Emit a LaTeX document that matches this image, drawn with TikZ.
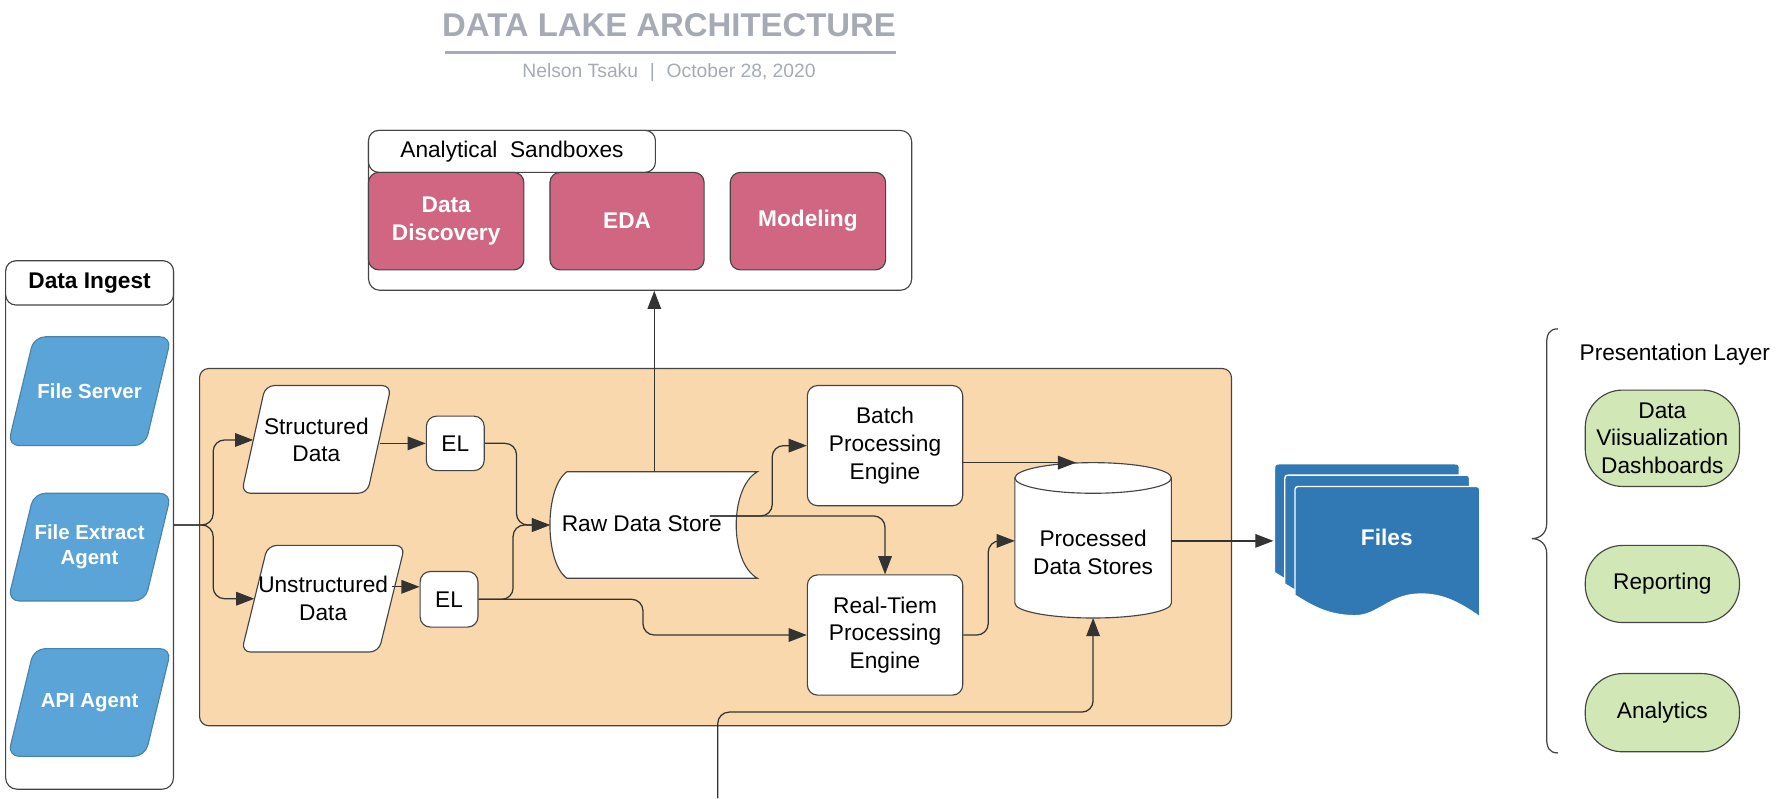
\documentclass[tikz,border=0pt]{standalone}
\usepackage{fontspec}
\setmainfont{Liberation Sans}
\usetikzlibrary{arrows.meta,shapes.geometric,calc}
\definecolor{edgec}{HTML}{444444}
\definecolor{linec}{HTML}{333333}
\definecolor{pinkc}{HTML}{D06681}
\definecolor{ingestc}{HTML}{5AA4D7}
\definecolor{filesc}{HTML}{3179B5}
\definecolor{orangec}{HTML}{F9D8AD}
\definecolor{greenc}{HTML}{D1E7B6}
\definecolor{titlec}{HTML}{A5AAB4}
\newcommand\txtfont{\fontsize{20}{24.5}\selectfont}
\newcommand\bluefont{\bfseries\fontsize{18}{22}\selectfont}
% parallelogram outline: #1 style, #2 left x, #3 right x, #4 top y, #5 bottom y, #6 slant
\newcommand\paraoutline[6]{%
  \draw[#1] (#2,#5) -- ({#2+#6},#4) -- (#3,#4) -- ({#3-#6},#5) -- cycle;}
\begin{document}
\begin{tikzpicture}[x=1pt,y=-1pt,
  box/.style={draw=edgec, line width=1pt, rounded corners=9pt, fill=white, align=center, font=\txtfont, inner sep=2pt},
  pinkbox/.style={box, fill=pinkc, text=white, font=\bfseries\txtfont, minimum width=137, minimum height=86},
  container/.style={draw=edgec, line width=1pt, rounded corners=10pt, fill=white},
  bluepara/.style={fill=ingestc, draw=ingestc!80!black, line width=1pt, rounded corners=10pt},
  whitepara/.style={fill=white, draw=edgec, line width=1pt, rounded corners=8pt},
  paratext/.style={align=center, inner sep=0pt},
  pill/.style={draw=edgec, line width=1pt, fill=greenc, rounded corners=33pt, minimum width=136, align=center, font=\txtfont},
  arr/.style={draw=linec, line width=1.1pt, rounded corners=10pt, -{Triangle[length=16pt,width=12pt]}}
]
\useasboundingbox (0,0) rectangle (1568,704);

% title
\node[font=\bfseries\fontsize{29}{32}\selectfont, text=titlec] (title) at (590,22) {DATA LAKE ARCHITECTURE};
\draw[titlec, line width=2.5pt] (392,46) -- (790,46);
\node[font=\fontsize{17}{20}\selectfont, text=titlec] (sub) at (590,64) {Nelson Tsaku \,\,|\,\, October 28, 2020};

% analytical sandboxes
\node[container, minimum width=479, minimum height=141] (sb) at (564.5,185.5) {};
\node[box, minimum width=253, minimum height=37] (sbtab) at (451.5,133.5) {Analytical\ \ Sandboxes};
\node[pinkbox] (dd) at (393.5,195) {Data\\Discovery};
\node[pinkbox, minimum width=136] (eda) at (553,195) {EDA};
\node[pinkbox] (mod) at (712.5,195) {Modeling};

% data ingest
\node[container, minimum width=148, minimum height=466] (ingest) at (79,463) {};
\node[box, minimum width=148, minimum height=39, font=\bfseries\txtfont] (ingtab) at (79,249.5) {Data Ingest};
\paraoutline{bluepara}{7}{151}{297}{393}{23}
\node[paratext, font=\bluefont, text=white, minimum width=121, minimum height=96] (fs) at (79,345) {File Server};
\paraoutline{bluepara}{7}{151}{435}{530}{23}
\node[paratext, font=\bluefont, text=white, minimum width=121, minimum height=95] (fea) at (79,482.5) {File Extract\\Agent};
\paraoutline{bluepara}{7}{151}{572}{667}{23}
\node[paratext, font=\bluefont, text=white, minimum width=121, minimum height=95] (api) at (79,619.5) {API Agent};

% processing area
\node[draw=edgec, line width=1pt, rounded corners=8pt, fill=orangec, minimum width=910, minimum height=315] (proc) at (631,482.5) {};
\paraoutline{whitepara}{213}{345}{340}{435}{21}
\node[paratext, font=\txtfont, minimum width=111, minimum height=95] (struct) at (279,388) {Structured\\Data};
\paraoutline{whitepara}{213}{357}{481}{575}{23}
\node[paratext, font=\txtfont, minimum width=121, minimum height=94] (unstr) at (285,528) {Unstructured\\Data};
\node[box, minimum width=51, minimum height=48] (el1) at (401.5,391) {EL};
\node[box, minimum width=51, minimum height=49] (el2) at (396,528.5) {EL};

% raw data store
\draw[fill=white, draw=edgec, line width=1pt] (668,416) -- (500,416) .. controls (480,430) and (480,496) .. (500,510) -- (668,510) .. controls (643,496) and (643,430) .. (668,416) -- cycle;
\node[font=\txtfont] (raw) at (566,462) {Raw Data Store};
\coordinate (rawW) at (485,463);
\coordinate (rawN) at (577,416);
\coordinate (rawE) at (626,455);

\node[box, minimum width=137, minimum height=106] (batch) at (780.5,393) {Batch\\Processing\\Engine};
\node[box, minimum width=137, minimum height=106] (rte) at (780.5,560) {Real-Tiem\\Processing\\Engine};

% processed data stores (cylinder)
\draw[fill=white, draw=edgec, line width=1pt] (895,421.5) -- (895,532) .. controls (895,539.2) and (925.9,545) .. (964,545) .. controls (1002.1,545) and (1033,539.2) .. (1033,532) -- (1033,421.5);
\draw[fill=white, draw=edgec, line width=1pt] (964,421.5) ellipse [x radius=69, y radius=13.5];
\node[font=\txtfont, align=center] (pds) at (964,487) {Processed\\Data Stores};
\coordinate (pdsW) at (895,477);
\coordinate (pdsE) at (1033,477);
\coordinate (pdsS) at (964,545);
\coordinate (pdsT) at (949,408);
\coordinate (inB) at (633,704);

% files
\foreach \dx/\dy in {-18/-20,-9/-10,0/0}{
  \draw[shift={(\dx,\dy)}, fill=filesc, draw=white, line width=1.2pt]
    (1142,525) -- (1142,435) .. controls (1142,429) .. (1148,429) -- (1299,429) .. controls (1305,429) .. (1305,435)
    -- (1305,544) .. controls (1285,530) and (1270,523) .. (1250,524) .. controls (1225,525) and (1215,543) .. (1195,543)
    .. controls (1170,543) and (1155,533) .. (1142,525) -- cycle;
}
\node[font=\bfseries\txtfont, text=white] (files) at (1223,474) {Files};
\coordinate (filesW) at (1123,477);

% presentation layer
\draw[edgec, line width=1.1pt] (1374,290) .. controls (1366,290) and (1364,295) .. (1364,303) -- (1364,462) .. controls (1364,470) and (1358,475) .. (1351,475) .. controls (1358,475) and (1364,480) .. (1364,488) -- (1364,651) .. controls (1364,659) and (1366,664) .. (1374,664);
\node[font=\txtfont] (pl) at (1477,313) {Presentation Layer};
\node[pill, minimum height=85] (dash) at (1466,386.5) {Data\\Viisualization\\Dashboards};
\node[pill, minimum height=68] (rep) at (1466,515) {Reporting};
\node[pill, minimum height=69] (ana) at (1466,628.5) {Analytics};

% connectors
\draw[arr] (ingest.east) -- (188,463) |- (struct.west);
\draw[arr] (ingest.east) -- (188,463) |- (unstr.west);
\draw[arr] (el1.west -| struct.east) -- (el1.west);
\coordinate (el2in) at ($(el2.west)+(0,-11)$);
\draw[arr] (el2in -| unstr.east) -- (el2in);
\draw[arr] (el1.east) -- ++(28,0) |- (rawW);
\draw[arr] (el2.east) -- ++(30.5,0) |- (rawW);
\draw[arr] (el2.east) -- ++(145,0) |- (rte.west);
\draw[arr] (rawE) -- ++(55,0) |- (batch.west);
\draw[arr] (rawE) -| (rte.north);
\draw[arr] (rawN) -- (rawN |- sb.south);
\draw[arr] ($(batch.east)+(0,15)$) -- (pdsT);
\draw[arr] (rte.east) -- ++(22,0) |- (pdsW);
\draw[arr] (inB) -- (633,628) -| (pdsS);
\draw[arr] (pdsE) -- (filesW);
\end{tikzpicture}
\end{document}
